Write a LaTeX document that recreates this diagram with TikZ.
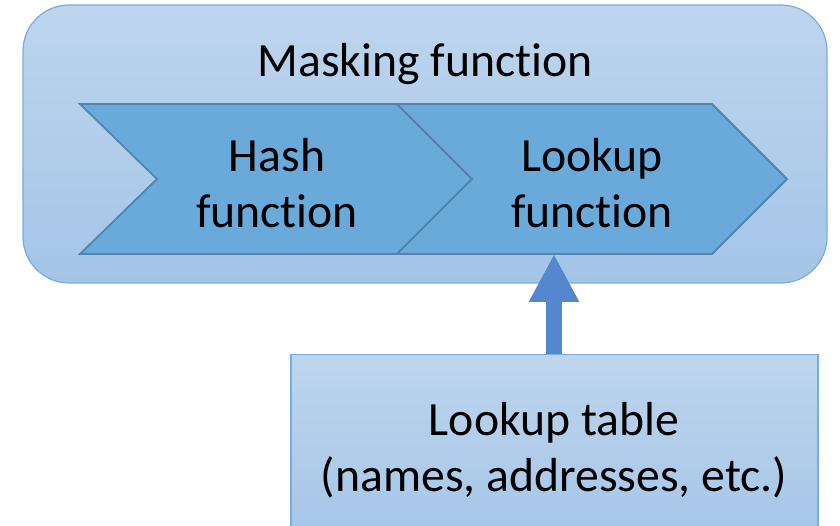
\documentclass[tikz,border=0pt]{standalone}
\usepackage{fontspec}
\setmainfont{Carlito}[Ligatures={NoCommon,NoRare,NoContextual}]
\usetikzlibrary{arrows.meta}
\definecolor{panelTop}{HTML}{BED5ED}
\definecolor{panelBot}{HTML}{A4C5E8}
\definecolor{panelLine}{HTML}{78ADDD}
\definecolor{chevFill}{HTML}{6AAADB}
\definecolor{chevLine}{HTML}{5184AE}
\definecolor{arrowBlue}{HTML}{5587CF}
\tikzset{
  panel/.style={top color=panelTop, bottom color=panelBot, draw=panelLine, line width=1.2pt},
  chev/.style={fill=chevFill, draw=chevLine, line width=1.8pt, line join=miter},
  lbl/.style={font=\fontsize{47.7}{56}\selectfont, text=black, align=center, inner sep=0pt},
  uparrow/.style={draw=arrowBlue, line width=16pt, -{Triangle[width=47pt,length=48pt]}}
}
\begin{document}
\begin{tikzpicture}[x=1pt,y=-1pt]
\useasboundingbox (0,0) rectangle (840,526);
\clip (0,0) rectangle (840,526);
% outer masking panel
\shade[panel, rounded corners=46pt] (23,5) rectangle (827,283);
\node[lbl, anchor=base] (mask) at (425,77) {Masking function};
% chevrons
\path[chev] (80,104) -- (397,104) -- (472,179) -- (397,254) -- (80,254) -- (157,179) -- cycle;
\path[chev] (397,104) -- (712,104) -- (787,179) -- (712,254) -- (397,254) -- (472,179) -- cycle;
\node[lbl] (hash) at (277,183) {Hash\\function};
\node[lbl] (lookup) at (592,183) {Lookup\\function};
\coordinate (lookupbottom) at (554,254);
% lookup table box
\node[panel, minimum width=527pt, minimum height=190pt, anchor=north, lbl, draw=panelLine, line width=1.2pt] (table) at (554.5,354) {};
\node[lbl] (tabletext) at (554,450) {Lookup table\\(names, addresses, etc.)};
% arrow
\draw[uparrow] (table.north -| lookupbottom) -- (lookupbottom);
\end{tikzpicture}
\end{document}
